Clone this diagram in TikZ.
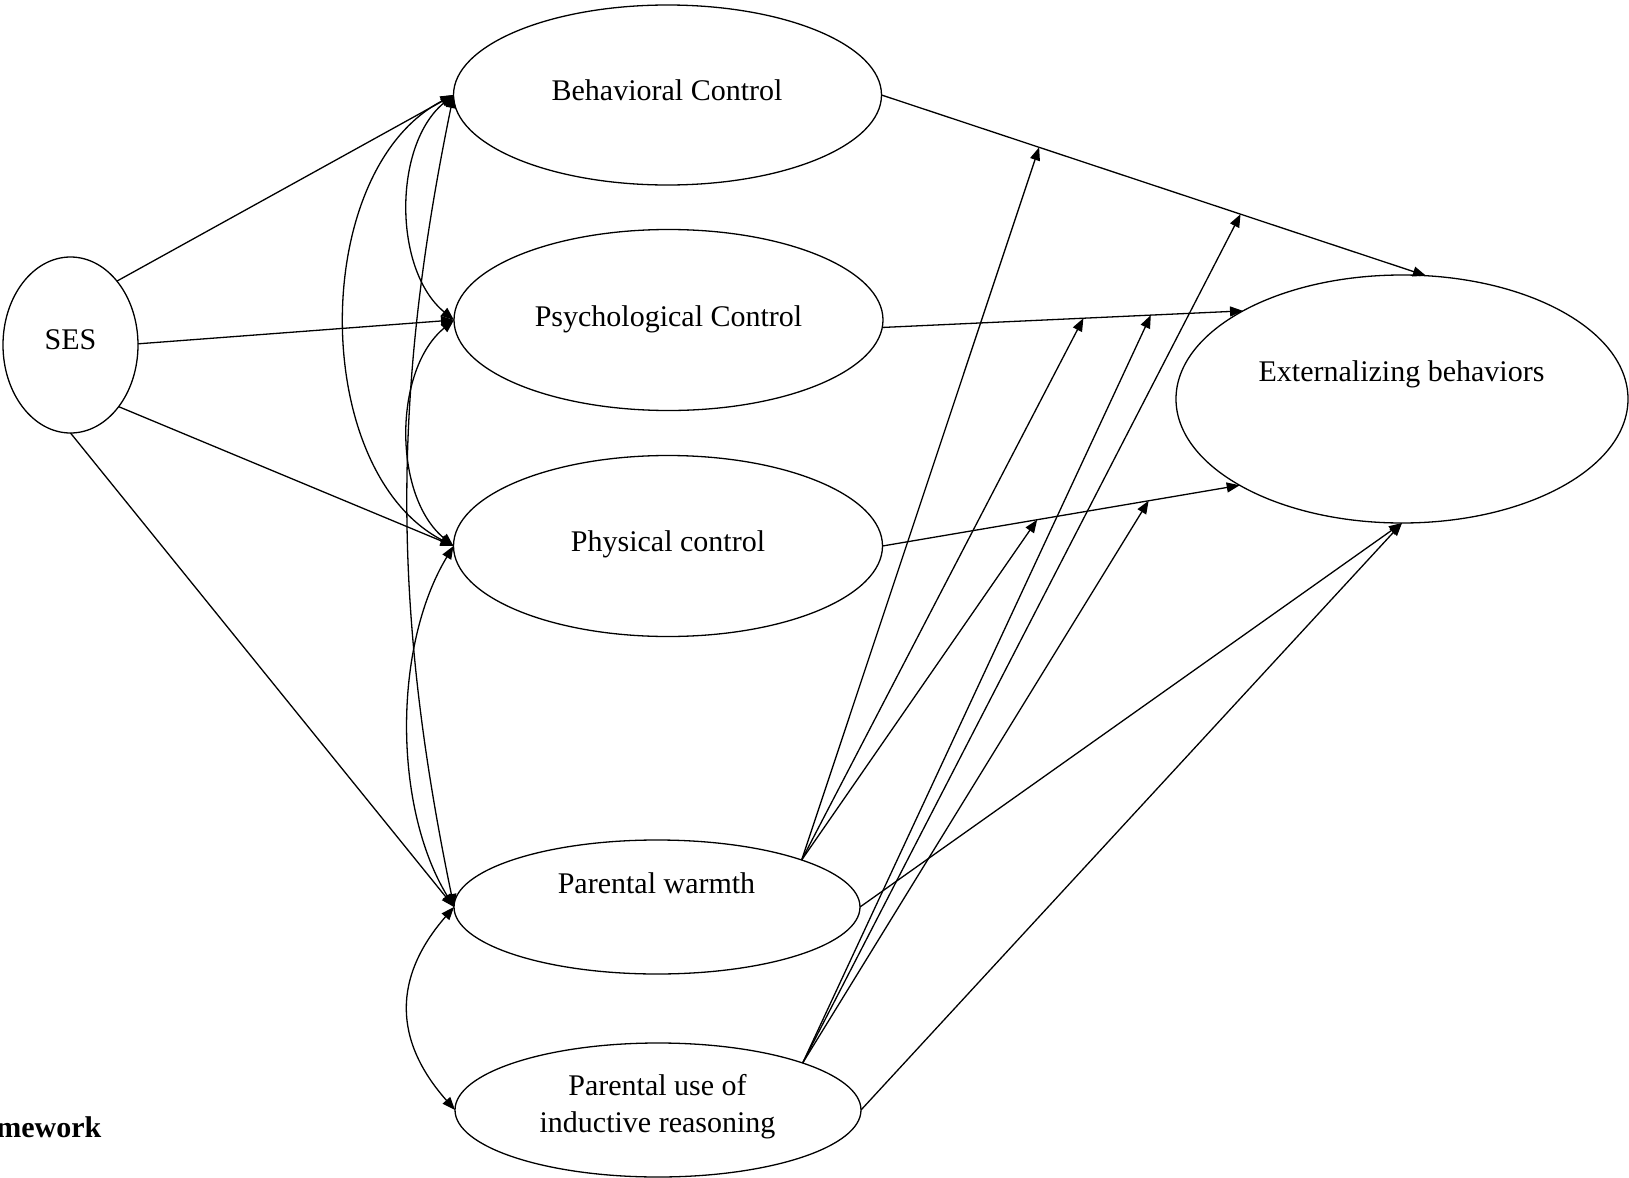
\documentclass[tikz,border=0pt]{standalone}
\usepackage{fontspec}
\setmainfont{Liberation Serif}
\usetikzlibrary{arrows.meta,shapes.geometric}
\begin{document}
\begin{tikzpicture}[x=0.5pt,y=-0.5pt,line width=0.65pt,
  oval/.style={draw, ellipse, inner sep=0pt, outer sep=0pt},
  lbl/.style={font=\fontsize{15}{18.5}\selectfont, inner sep=0pt, anchor=base},
  arr/.style={-{Triangle[length=6.5pt,width=5pt]}},
  darr/.style={{Triangle[length=6.5pt,width=5pt]}-{Triangle[length=6.5pt,width=5pt]}}]
\useasboundingbox (0,0) rectangle (1629,1178);

% ellipses
\node[oval, minimum width=67.5pt, minimum height=88pt] (ses) at (70.5,345) {};
\node[oval, minimum width=214pt, minimum height=90pt] (bc) at (667.5,95) {};
\node[oval, minimum width=214.5pt, minimum height=90.5pt] (psy) at (668.5,320) {};
\node[oval, minimum width=214.5pt, minimum height=90.5pt] (phy) at (668,546) {};
\node[oval, minimum width=203pt, minimum height=67pt] (warm) at (657,907) {};
\node[oval, minimum width=203pt, minimum height=67pt] (ind) at (658,1110) {};
\node[oval, minimum width=226pt, minimum height=124pt] (ext) at (1402,399) {};

% texts
\node[lbl] (ses-t) at (70.5,349) {SES};
\node[lbl] (bc-t) at (667,100) {Behavioral Control};
\node[lbl] (psy-t) at (668.5,326) {Psychological Control};
\node[lbl] (phy-t) at (668,551.5) {Physical control};
\node[lbl] (warm-t) at (656.5,893) {Parental warmth};
\node[lbl, anchor=center, align=center] (ind-t) at (657.5,1106.5) {Parental use of\\inductive reasoning};
\node[lbl] (ext-t) at (1401.5,381.7) {Externalizing behaviors};
\node[font=\fontsize{15}{18}\selectfont\bfseries, inner sep=0pt, anchor=base east] (cap) at (102,1137) {mework};

% SES paths
\draw[arr] (ses.54) -- (bc.west);
\draw[arr] (ses.1) -- (psy.west);
\draw[arr] (ses.-52) -- (phy.west);
\draw[arr] (ses.south) -- (warm.west);

% correlations
\draw[darr] (bc.west) .. controls (309,170) and (309,471) .. (phy.west);
\draw[darr] (bc.west) .. controls (393,145) and (393,270) .. (psy.west);
\draw[darr] (psy.west) .. controls (393,370) and (393,496) .. (phy.west);
\draw[darr] (bc.west) .. controls (392,395) and (392,607) .. (warm.west);
\draw[darr] (phy.west) .. controls (393,646) and (393,807) .. (warm.west);
\draw[darr] (warm.west) .. controls (393,977) and (393,1040) .. (ind.west);

% paths to externalizing
\draw[arr] (bc.east) -- coordinate[pos=0.2895] (mb1) coordinate[pos=0.6595] (mb2) (ext.79.5);
\draw[arr] (psy.-2.5) -- coordinate[pos=0.5576] (mp1) coordinate[pos=0.7444] (mp2) (ext.151.4);
\draw[arr] (phy.east) -- coordinate[pos=0.433] (mf1) coordinate[pos=0.745] (mf2) (ext.208.7);
\draw[arr] (warm.east) -- (ext.south);
\draw[arr] (ind.east) -- (ext.south);

% moderation
\coordinate (wsrc) at (warm.18.7);
\coordinate (isrc) at (ind.18.4);
\draw[arr] (wsrc) -- (mb1);
\draw[arr] (wsrc) -- (mp1);
\draw[arr] (wsrc) -- (mf1);
\draw[arr] (isrc) -- (mb2);
\draw[arr] (isrc) -- (mp2);
\draw[arr] (isrc) -- (mf2);
\end{tikzpicture}
\end{document}
